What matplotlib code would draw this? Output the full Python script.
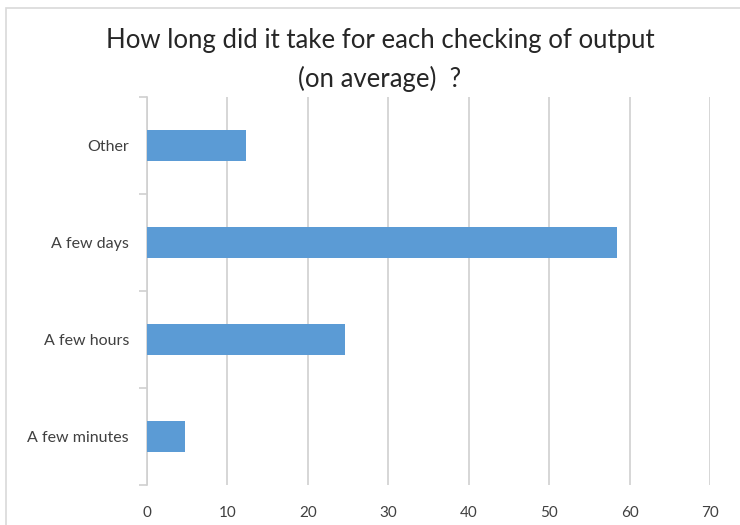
import matplotlib.pyplot as plt
from matplotlib.patches import Rectangle

plt.rcParams['font.family'] = ['Lato', 'DejaVu Sans']

categories = ['A few minutes', 'A few hours', 'A few days', 'Other']
values = [4.7, 24.6, 58.4, 12.3]
xticks = [0, 10, 20, 30, 40, 50, 60, 70]
title = 'How long did it take for each checking of output\n(on average)  ?'

text_col = '#404040'
grid_col = '#D0D0D0'

fig = plt.figure(figsize=(7.4, 5.25), dpi=100)
ax = fig.add_axes([147/740, 1-485/525, (710-147)/740, (485-97)/525])

pos = list(range(len(categories)))
ax.barh(pos, values, height=0.31, color='#5B9BD5', zorder=3)

ax.set_xlim(0, 70)
ax.set_ylim(-0.5, len(categories) - 0.5)
ax.set_xticks(xticks)
ax.set_xticklabels([str(t) for t in xticks], fontsize=11, color=text_col)
ax.tick_params(axis='x', length=0, pad=15)

ax.set_yticks(pos)
ax.set_yticklabels(categories, fontsize=11.5, color=text_col)
ax.tick_params(axis='y', which='major', length=0, pad=13)
ax.set_yticks([p - 0.5 for p in pos] + [len(pos) - 0.5], minor=True)
ax.tick_params(axis='y', which='minor', length=6, color=grid_col, width=1.2)

ax.grid(axis='x', color=grid_col, linewidth=1.2, zorder=0)
for s in ['top', 'right', 'bottom']:
    ax.spines[s].set_visible(False)
ax.spines['left'].set_color(grid_col)
ax.spines['left'].set_linewidth(1.2)

fig.text(380/740, 1 - 60/525, title, ha='center', va='center', fontsize=18.5,
         color='#262626', linespacing=1.6)

# chart border
fig.patches.append(Rectangle((6/740, -0.05), 1.2, 1 - 8/525 + 0.05, transform=fig.transFigure,
                             fill=False, edgecolor='#D9D9D9', linewidth=1.2))

fig.savefig('out.png', dpi=100)
